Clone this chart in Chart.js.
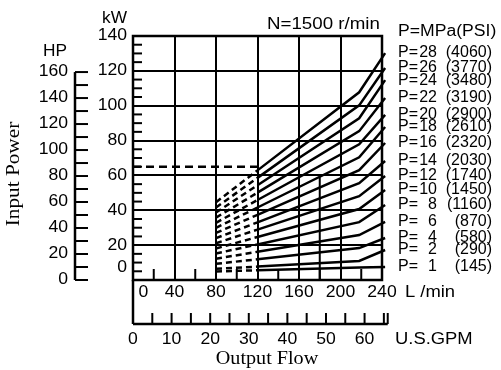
<!DOCTYPE html>
<html>
<head>
<meta charset="utf-8">
<script src="https://cdn.jsdelivr.net/npm/chart.js@4"></script>
<style>
  body { margin: 0; background: #fff; }
  canvas { display: block; }
</style>
</head>
<body>
<canvas id="chart" width="501" height="370"></canvas>
<script>
// flow (L/min) where each curve is read: start of dashed part, start of solid part, kink, end
const flow = [80, 120, 218, 243];
const pressures = [28, 26, 24, 22, 20, 18, 16, 14, 12, 10, 8, 6, 4, 2, 1];
const psi = [4060, 3770, 3480, 3190, 2900, 2610, 2320, 2030, 1740, 1450, 1160, 870, 580, 290, 145];

// input power (kW) at the flows above
const kwP28 = [44.6, 62.9, 107.7, 130.2];
const kwP26 = [41.6, 58.6, 100.2, 121.6];
const kwP24 = [38.7, 54.4, 92.8, 114.7];
const kwP22 = [35.8, 50.1, 85.4, 104.4];
const kwP20 = [32.8, 45.9, 77.9, 94.7];
const kwP18 = [29.9, 41.6, 70.4, 87.8];
const kwP16 = [27.0, 37.4, 63.0, 78.6];
const kwP14 = [24.0, 33.1, 55.6, 68.3];
const kwP12 = [21.1, 28.9, 48.1, 59.7];
const kwP10 = [18.1, 24.7, 40.7, 51.6];
const kwP8 = [15.2, 20.4, 33.2, 43.0];
const kwP6 = [12.2, 16.2, 25.8, 33.3];
const kwP4 = [9.3, 11.9, 18.3, 24.1];
const kwP2 = [6.4, 7.7, 10.9, 17.2];
const kwP1 = [4.9, 5.6, 7.2, 7.5];
const curves = [kwP28, kwP26, kwP24, kwP22, kwP20, kwP18, kwP16, kwP14, kwP12, kwP10, kwP8, kwP6, kwP4, kwP2, kwP1];

// reference lines
const motorLimit = [{x: 0, y: 65}, {x: 124, y: 65}];
const flowMark = [{x: 180, y: 0}, {x: 180, y: 59}];

// axis ticks
const kwTicks = [0, 20, 40, 60, 80, 100, 120, 140];
const hpTicks = [0, 20, 40, 60, 80, 100, 120, 140, 160];
const lpmTicks = [0, 40, 80, 120, 160, 200, 240];
const gpmTicks = [0, 10, 20, 30, 40, 50, 60];
const HP_KW = 0.7457;
const GPM_LPM = 3.72;

const SANS = '"Liberation Sans", Arial, sans-serif';
const SERIF = '"Liberation Serif", "Times New Roman", serif';

function text(ctx, s, px, py, align, font, sx, rot) {
  ctx.save();
  ctx.font = font;
  ctx.textAlign = align;
  ctx.textBaseline = 'middle';
  ctx.translate(px, py);
  if (rot) ctx.rotate(rot);
  ctx.scale(sx, 1);
  ctx.fillText(s, 0, 0);
  ctx.restore();
}

function seg(ctx, x1, y1, x2, y2) {
  ctx.beginPath();
  ctx.moveTo(x1, y1);
  ctx.lineTo(x2, y2);
  ctx.stroke();
}

const datasets = curves.map((vals) => {
  const pts = flow.map((q, i) => ({x: q, y: vals[i]}));
  pts.push({x: 251, y: vals[vals.length - 1]});
  return {
    data: pts,
    borderColor: '#000',
    borderWidth: 2.5,
    pointRadius: 0,
    tension: 0,
    clip: false,
    segment: {
      borderDash: (c) => c.p0.parsed.x < 120 ? [6, 4] : undefined
    }
  };
});
datasets.push({data: motorLimit, borderColor: '#000', borderWidth: 2.5, pointRadius: 0, borderDash: [8, 5]});
datasets.push({data: flowMark, borderColor: '#000', borderWidth: 2, pointRadius: 0});

const decor = {
  id: 'decor',
  afterDraw(chart) {
    const ctx = chart.ctx;
    const a = chart.chartArea;
    const x = chart.scales.x;
    const y = chart.scales.y;
    ctx.save();
    ctx.strokeStyle = '#000';
    ctx.fillStyle = '#000';
    ctx.lineCap = 'butt';

    // frame
    ctx.lineWidth = 2.5;
    ctx.strokeRect(a.left, a.top, a.right - a.left, a.bottom - a.top);

    // kW minor ticks
    ctx.lineWidth = 2;
    for (let v = 5; v < 140; v += 5) {
      if (v % 20 === 0) continue;
      const py = y.getPixelForValue(v);
      seg(ctx, a.left, py, a.left + 9, py);
    }
    // L/min minor ticks
    for (let q = 20; q < 240; q += 40) {
      const px = x.getPixelForValue(q);
      seg(ctx, px, a.bottom, px, a.bottom - 11);
    }

    const f16 = '16px ' + SANS;
    // kW labels
    kwTicks.forEach((v) => {
      const py = v === 0 ? y.getPixelForValue(7) : y.getPixelForValue(v);
      text(ctx, String(v), a.left - 6, py, 'right', f16, 1.1);
    });
    text(ctx, 'kW', a.left - 6, 19, 'right', f16, 1.08);

    // HP axis
    const hx = 75;
    ctx.lineWidth = 2.5;
    seg(ctx, hx, y.getPixelForValue(160 * HP_KW), hx, y.getPixelForValue(0));
    ctx.lineWidth = 2;
    for (let h = 0; h <= 160; h += 10) {
      const py = y.getPixelForValue(h * HP_KW);
      seg(ctx, hx, py, hx + 13, py);
    }
    hpTicks.forEach((h) => {
      text(ctx, String(h), hx - 7, y.getPixelForValue(h * HP_KW), 'right', f16, 1.1);
    });
    text(ctx, 'HP', hx - 8, 52, 'right', f16, 1.08);

    // L/min labels
    lpmTicks.forEach((q) => {
      const px = q === 0 ? x.getPixelForValue(10) : x.getPixelForValue(q);
      text(ctx, String(q), px, a.bottom + 13, 'center', f16, 1.1);
    });
    text(ctx, 'L /min', 405, a.bottom + 13, 'left', f16, 1.15);

    // U.S.GPM axis
    const gy = 324;
    const gEnd = x.getPixelForValue(66 * GPM_LPM);
    ctx.lineWidth = 2.5;
    seg(ctx, a.left, a.bottom, a.left, gy);
    seg(ctx, a.left, gy, gEnd, gy);
    ctx.lineWidth = 2;
    for (let g = 5; g <= 65; g += 5) {
      const px = x.getPixelForValue(g * GPM_LPM);
      seg(ctx, px, gy, px, gy - 11);
    }
    seg(ctx, gEnd, gy, gEnd, gy - 11);
    gpmTicks.forEach((g) => {
      text(ctx, String(g), x.getPixelForValue(g * GPM_LPM), gy + 16, 'center', f16, 1.1);
    });
    text(ctx, 'U.S.GPM', 395, gy + 16, 'left', f16, 1.15);

    // titles
    text(ctx, 'Output Flow', 267, 359, 'center', '18px ' + SERIF, 1.12);
    text(ctx, 'Input Power', 14, 174, 'center', '18px ' + SERIF, 1.18, -Math.PI / 2);
    text(ctx, 'N=1500 r/min', 267, 25, 'left', f16, 1.17);
    text(ctx, 'P=MPa(PSI)', 398, 32, 'left', f16, 1.1);

    // pressure labels
    curves.forEach((vals, i) => {
      const py = y.getPixelForValue(vals[vals.length - 1]);
      text(ctx, 'P=', 398, py, 'left', f16, 1.0);
      text(ctx, String(pressures[i]), 437, py, 'right', f16, 1.0);
      text(ctx, '(' + psi[i] + ')', 492, py, 'right', f16, 1.0);
    });
    ctx.restore();
  }
};

const ctx = document.getElementById('chart');
new Chart(ctx, {
  type: 'line',
  data: {datasets: datasets},
  options: {
    responsive: false,
    animation: false,
    events: [],
    layout: {padding: {left: 133, right: 119, top: 36, bottom: 90}},
    plugins: {legend: {display: false}, tooltip: {enabled: false}},
    scales: {
      x: {
        type: 'linear', min: 0, max: 240,
        ticks: {display: false, stepSize: 40},
        grid: {color: '#000', lineWidth: 2, drawTicks: false},
        border: {display: false},
        afterFit: (s) => { s.height = 0; }
      },
      y: {
        type: 'linear', min: 0, max: 140,
        ticks: {display: false, stepSize: 20},
        grid: {color: '#000', lineWidth: 2, drawTicks: false},
        border: {display: false},
        afterFit: (s) => { s.width = 0; }
      }
    }
  },
  plugins: [decor]
});
</script>
</body>
</html>
